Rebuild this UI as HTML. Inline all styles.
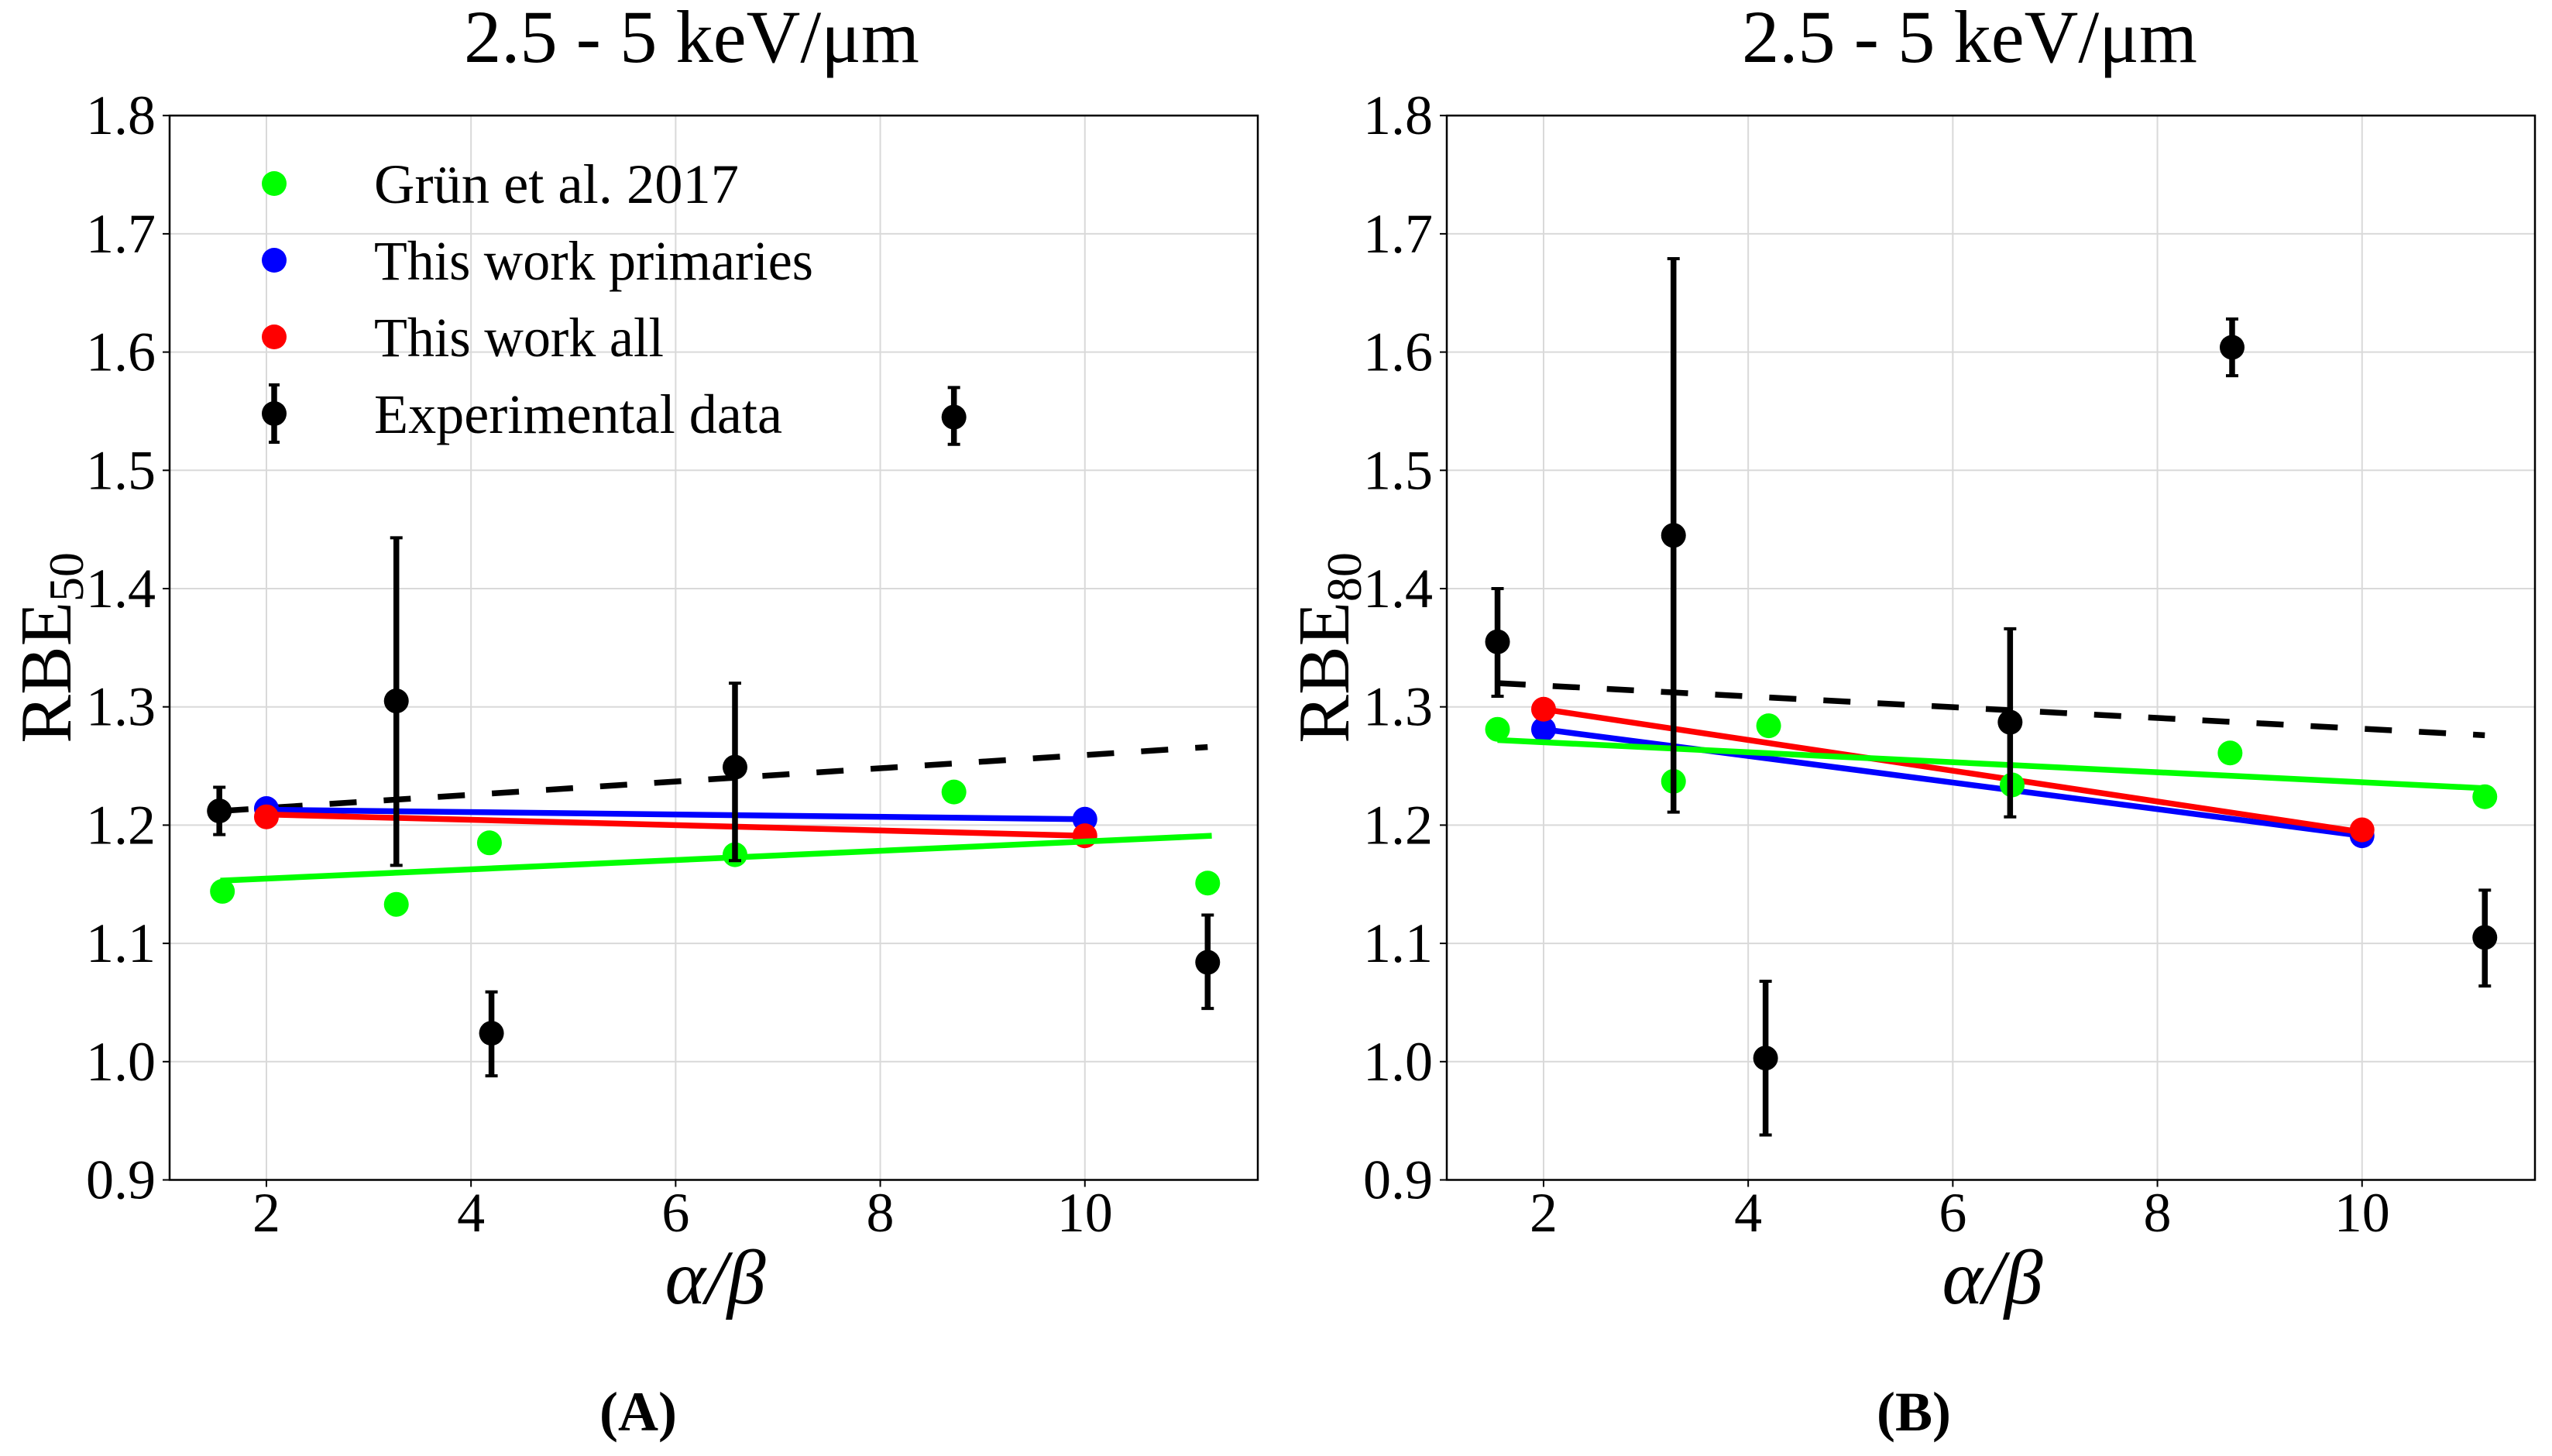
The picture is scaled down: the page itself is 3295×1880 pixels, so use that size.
<!DOCTYPE html>
<html><head><meta charset="utf-8"><style>
html,body{margin:0;padding:0;background:#fff;}
svg, svg text{font-family:"Liberation Serif","DejaVu Serif",serif;}
</style></head><body>
<svg id="fig" width="3295" height="1880" viewBox="0 0 3295 1880" xmlns="http://www.w3.org/2000/svg" font-family="Liberation Serif, DejaVu Serif, serif" style="display:block"></svg>
<script>
// ---- data: panel A (RBE50) ----
const expXA = [1.54, 3.27, 4.20, 6.58, 8.72, 11.20];
const expYA = [1.212, 1.305, 1.024, 1.249, 1.545, 1.084];
const expLoA = [1.192, 1.166, 0.988, 1.170, 1.522, 1.045];
const expHiA = [1.232, 1.443, 1.059, 1.320, 1.570, 1.124];
const grunXA = [1.57, 3.27, 4.18, 6.58, 8.72, 11.20];
const grunYA = [1.144, 1.133, 1.185, 1.175, 1.228, 1.151];
const primXA = [2, 10];
const primYA = [1.214, 1.205];
const allXA = [2, 10];
const allYA = [1.207, 1.191];
const grunFitA = [[1.55, 1.153], [11.24, 1.191]];
const primFitA = [[2, 1.213], [10, 1.205]];
const allFitA = [[2, 1.209], [10, 1.191]];
const expFitA = [[1.56, 1.212], [11.2, 1.266]];
// ---- data: panel B (RBE80) ----
const expXB = [1.55, 3.27, 4.17, 6.56, 8.73, 11.20];
const expYB = [1.355, 1.445, 1.003, 1.287, 1.604, 1.105];
const expLoB = [1.309, 1.211, 0.938, 1.207, 1.580, 1.064];
const expHiB = [1.400, 1.679, 1.068, 1.366, 1.628, 1.145];
const grunXB = [1.55, 3.27, 4.20, 6.58, 8.71, 11.20];
const grunYB = [1.281, 1.237, 1.284, 1.234, 1.261, 1.224];
const primXB = [2, 10];
const primYB = [1.281, 1.191];
const allXB = [2, 10];
const allYB = [1.298, 1.196];
const grunFitB = [[1.55, 1.272], [11.24, 1.231]];
const primFitB = [[2, 1.281], [10, 1.191]];
const allFitB = [[2, 1.298], [10, 1.194]];
const expFitB = [[1.56, 1.320], [11.2, 1.276]];
// ticks
const xTicks = [2, 4, 6, 8, 10];
const yTicks = [0.9, 1.0, 1.1, 1.2, 1.3, 1.4, 1.5, 1.6, 1.7, 1.8];
const legendLabels = ["Grün et al. 2017", "This work primaries", "This work all", "Experimental data"];

const NS = "http://www.w3.org/2000/svg";
const svg = document.getElementById("fig");
function mk(tag, attrs, parent, text) {
  const e = document.createElementNS(NS, tag);
  for (const k in attrs) e.setAttribute(k, attrs[k]);
  if (text !== undefined) e.textContent = text;
  (parent || svg).appendChild(e);
  return e;
}
const XMIN = 1.054, XMAX = 11.69, YMIN = 0.9, YMAX = 1.8;
const TOP = 149.2, BOT = 1523.5;

function panel(id, L, R, d) {
  const g = mk("g", {});
  
  
  const sx = v => L + (v - XMIN) / (XMAX - XMIN) * (R - L);
  const sy = v => BOT - (v - YMIN) / (YMAX - YMIN) * (BOT - TOP);
  for (const t of xTicks) {
    const l = mk("line", {x1: sx(t), x2: sx(t), y1: TOP, y2: BOT, stroke: "#d9d9d9", "stroke-width": 2}, g);
    
    
  }
  for (const t of yTicks) {
    const l = mk("line", {x1: L, x2: R, y1: sy(t), y2: sy(t), stroke: "#d9d9d9", "stroke-width": 2}, g);
    
    
  }
  const fl = (pts, col, name, dash) => {
    const a = {x1: sx(pts[0][0]), y1: sy(pts[0][1]), x2: sx(pts[1][0]), y2: sy(pts[1][1]), stroke: col, "stroke-width": 7.5};
    if (dash) a["stroke-dasharray"] = "35 35";
    const l = mk("line", a, g);
    
    
  };
  const dots = (xs, ys, col, name, r) => {
    xs.forEach((x, i) => {
      const c = mk("circle", {cx: sx(x), cy: sy(ys[i]), r: r, fill: col}, g);
      
      
    });
  };
  fl(d.expFit, "#000", "experimental-fit-line", true);
  fl(d.primFit, "#0000ff", "primaries-fit-line");
  dots(d.primX, d.primY, "#0000ff", "primaries-point", 16);
  fl(d.allFit, "#ff0000", "all-fit-line");
  dots(d.allX, d.allY, "#ff0000", "all-point", 16);
  fl(d.grunFit, "#00ff00", "grun-fit-line");
  dots(d.grunX, d.grunY, "#00ff00", "grun-point", 16);
  d.expX.forEach((x, i) => {
    const eg = mk("g", {}, g);
    
    
    const X = sx(x);
    mk("line", {x1: X, x2: X, y1: sy(d.expHi[i]), y2: sy(d.expLo[i]), stroke: "#000", "stroke-width": 7.5}, eg);
    mk("line", {x1: X - 8, x2: X + 8, y1: sy(d.expHi[i]), y2: sy(d.expHi[i]), stroke: "#000", "stroke-width": 4}, eg);
    mk("line", {x1: X - 8, x2: X + 8, y1: sy(d.expLo[i]), y2: sy(d.expLo[i]), stroke: "#000", "stroke-width": 4}, eg);
    mk("circle", {cx: X, cy: sy(d.expY[i]), r: 16, fill: "#000"}, eg);
  });
  const fr = mk("rect", {x: L, y: TOP, width: R - L, height: BOT - TOP, fill: "none", stroke: "#000", "stroke-width": 2.5}, g);
  
  
  for (const t of xTicks) {
    mk("line", {x1: sx(t), x2: sx(t), y1: BOT, y2: BOT + 9, stroke: "#000", "stroke-width": 2}, g);
    const tx = mk("text", {x: sx(t), y: 1590, "font-size": 72, "text-anchor": "middle", "font-family": "Liberation Serif, serif"}, g, String(t));
    
    
  }
  for (const t of yTicks) {
    mk("line", {x1: L - 9, x2: L, y1: sy(t), y2: sy(t), stroke: "#000", "stroke-width": 2}, g);
    const tx = mk("text", {x: L - 18, y: sy(t) + 24, "font-size": 72, "text-anchor": "end", "font-family": "Liberation Serif, serif"}, g, t.toFixed(1));
    
    
  }
  const ti = mk("text", {x: d.titleX, y: 80, "font-size": 96, "text-anchor": "middle", textLength: 588, lengthAdjust: "spacingAndGlyphs", "font-family": "Liberation Serif, serif"}, g, "2.5 - 5 keV/\u03bcm");
  
  
  const xl = mk("text", {x: (L + R) / 2 + 2, y: 1683, "font-size": 100, "font-style": "italic", "text-anchor": "middle", "font-family": "Liberation Serif, serif"}, g, "\u03b1/\u03b2");
  
  
  const yl = mk("text", {transform: `translate(${d.ylX},${(TOP + BOT) / 2}) rotate(-90)`, "font-size": 94, "text-anchor": "middle", "font-family": "Liberation Serif, serif"}, g);
  
  
  mk("tspan", {}, yl, "RBE");
  mk("tspan", {"font-size": 64, dy: 16}, yl, d.sub);
  const pl = mk("text", {x: d.labX, y: 1847, "font-size": 72, "font-weight": "bold", "text-anchor": "middle", "font-family": "Liberation Serif, serif"}, g, d.lab);
  
  
}

panel("rbe50", 219, 1624, {
  expX: expXA, expY: expYA, expLo: expLoA, expHi: expHiA, grunX: grunXA, grunY: grunYA,
  primX: primXA, primY: primYA, allX: allXA, allY: allYA,
  grunFit: grunFitA, primFit: primFitA, allFit: allFitA, expFit: expFitA,
  titleX: 893, ylX: 91, sub: "50", lab: "(A)", labX: 824
});
panel("rbe80", 1868, 3273, {
  expX: expXB, expY: expYB, expLo: expLoB, expHi: expHiB, grunX: grunXB, grunY: grunYB,
  primX: primXB, primY: primYB, allX: allXB, allY: allYB,
  grunFit: grunFitB, primFit: primFitB, allFit: allFitB, expFit: expFitB,
  titleX: 2543, ylX: 1741, sub: "80", lab: "(B)", labX: 2471
});

const lg = mk("g", {});


const legCols = ["#00ff00", "#0000ff", "#ff0000", "#000"];
const legW = [471, 567, 374, 527];
legendLabels.forEach((lab, i) => {
  const cy = 237 + i * 99;
  const e = mk("g", {}, lg);
  
  
  if (i === 3) {
    mk("line", {x1: 354, x2: 354, y1: cy - 37, y2: cy + 37, stroke: "#000", "stroke-width": 7.5}, e);
    mk("line", {x1: 347, x2: 361, y1: cy - 37, y2: cy - 37, stroke: "#000", "stroke-width": 4}, e);
    mk("line", {x1: 347, x2: 361, y1: cy + 37, y2: cy + 37, stroke: "#000", "stroke-width": 4}, e);
  }
  mk("circle", {cx: 354, cy: cy, r: 16, fill: legCols[i]}, e);
  mk("text", {x: 483, y: cy + 25, "font-size": 72, textLength: legW[i], lengthAdjust: "spacingAndGlyphs", "font-family": "Liberation Serif, serif"}, e, lab);
});
</script>
</body></html>
